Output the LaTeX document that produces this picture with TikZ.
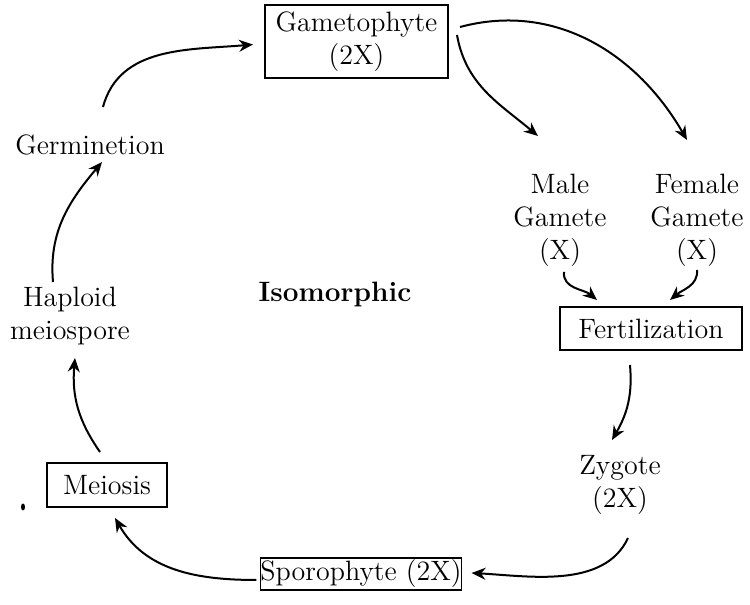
\documentclass[tikz,border=0pt]{standalone}
\usetikzlibrary{arrows.meta,calc}
\begin{document}
\begin{tikzpicture}[x=0.5pt,y=0.5pt,
  every node/.style={font=\fontsize{14}{16.5}\selectfont,align=center},
  box/.style={draw,line width=0.9pt,inner sep=0pt,outer sep=0pt},
  arr/.style={line width=1pt,-{Stealth[length=7pt,width=6pt]}}]
  \useasboundingbox (0,0) rectangle (750,605);

  % boxed stages
  \node[box,minimum width=91.5pt,minimum height=36.5pt] (game) at (356.5,563.5) {Gametophyte\\(2X)};
  \node[box,minimum width=91pt,minimum height=21.5pt] (fert) at (651,276.5) {Fertilization};
  \node[box,minimum width=99pt,minimum height=16pt] (spor) at (361,31) {Sporophyte (2X)};
  \node[box,minimum width=60pt,minimum height=22pt] (meio) at (107,120) {Meiosis};

  % plain labels
  \node (male) at (560,385) {Male\\Gamete\\(X)};
  \node (female) at (697,385) {Female\\Gamete\\(X)};
  \node (zyg) at (620,120) {Zygote\\(2X)};
  \node (hap) at (70,289) {Haploid\\meiospore};
  \node (germ) at (90,460) {Germinetion};
  \node[font=\fontsize{14}{16.5}\selectfont\bfseries] (iso) at (335,310) {Isomorphic};

  % stray mark
  \fill (23,98) ellipse (2 and 3.5);

  % cycle arrows
  \draw[arr] ($(game.east)+(9,6.5)$) to[out=-80,in=140] ($(male.center)+(-22,84)$);
  \draw[arr] ($(game.east)+(12,14.5)$) to[out=15,in=120] ($(female.center)+(-10,80)$);
  \draw[arr] ($(male.center)+(4,-52)$) to[out=-95,in=140] ($(fert.north)+(-54,7)$);
  \draw[arr] ($(female.center)+(0,-50)$) to[out=-85,in=40] ($(fert.north)+(19,7)$);
  \draw[arr] ($(fert.south)+(-21,-15)$) to[out=-85,in=60] ($(zyg.center)+(-8,45)$);
  \draw[arr] ($(zyg.center)+(8,-53)$) to[out=-115,in=-3,looseness=0.9] ($(spor.east)+(10,1)$);
  \draw[arr] ($(spor.west)+(-4,-6)$) to[out=180,in=-60] ($(meio.south)+(8,-11)$);
  \draw[arr] ($(meio.north)+(-7,11)$) to[out=125,in=-95] ($(hap.center)+(5,-42)$);
  \draw[arr] ($(hap.center)+(-17,34)$) to[out=95,in=-130] ($(germ.center)+(12,-17)$);
  \draw[arr] ($(germ.center)+(13,38)$) to[out=75,in=185] ($(game.west)+(-12,-3)$);
\end{tikzpicture}
\end{document}
